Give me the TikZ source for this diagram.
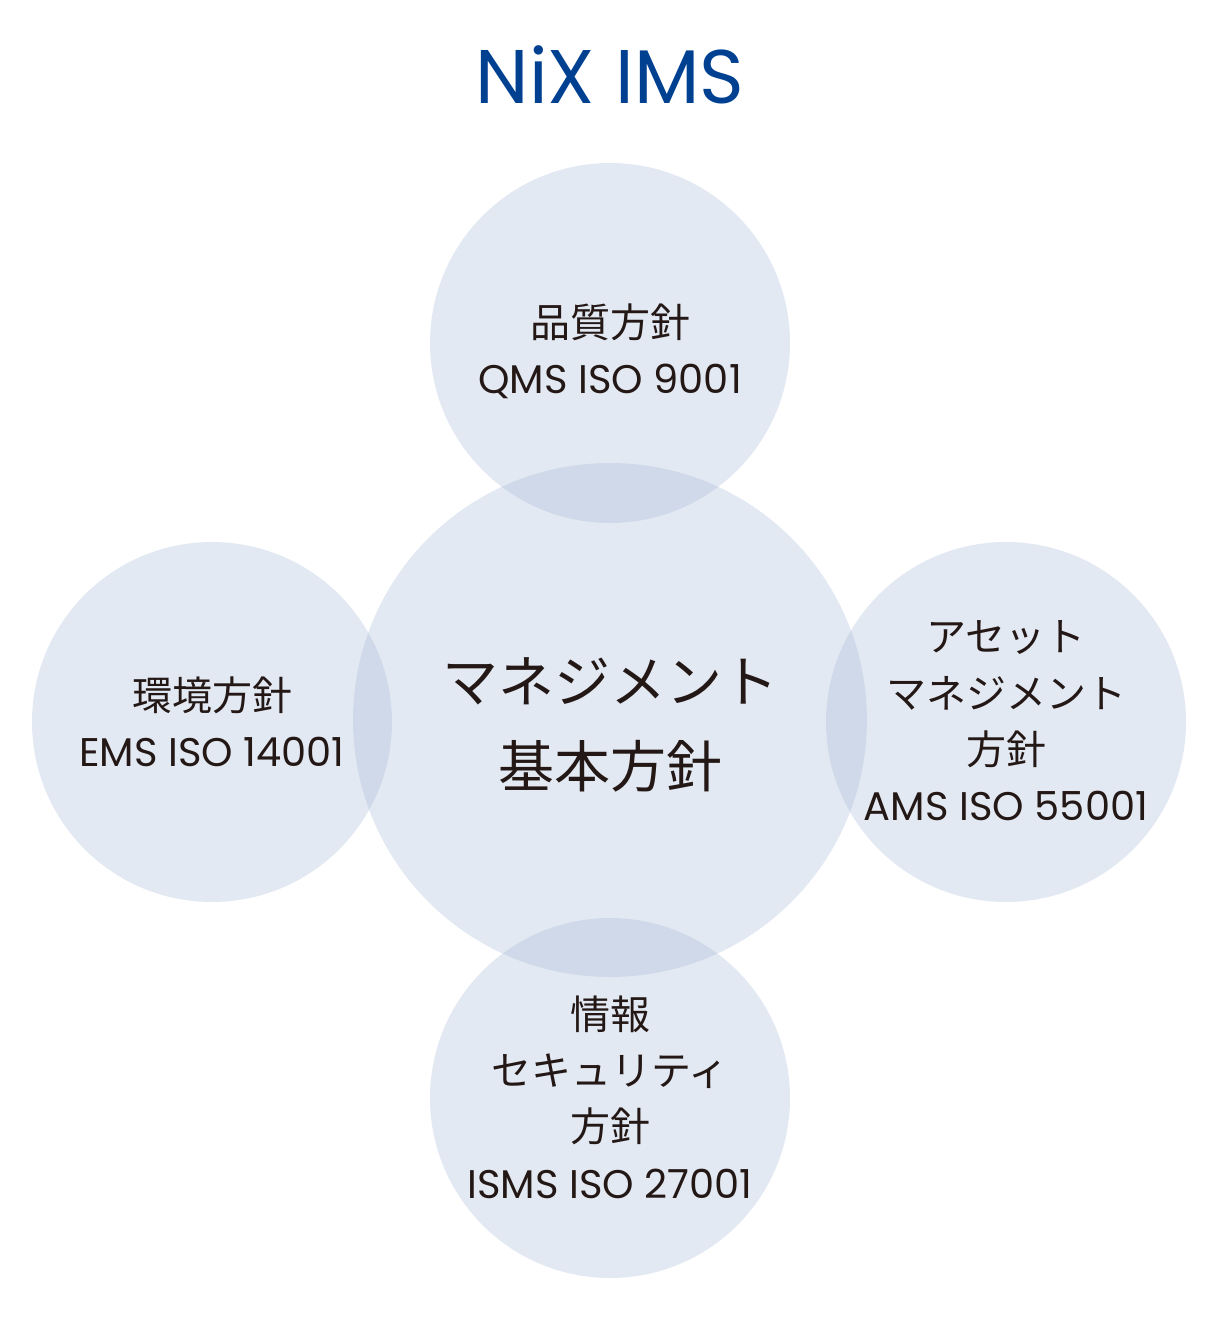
\documentclass[tikz,border=0pt]{standalone}
\usepackage{fontspec}
\setmainfont{Poppins}
\newfontfamily\jpfont{Noto Sans CJK JP}
\usepackage{xcolor}
\definecolor{nixblue}{RGB}{0,64,145}
\definecolor{nixink}{RGB}{35,24,21}
\definecolor{nixbubble}{RGB}{162,182,212}
\usepackage{tikz}
\usetikzlibrary{positioning}

\tikzset{
  bubble/.style={circle, fill=nixbubble, fill opacity=0.3, draw=none,
                 inner sep=0pt, minimum size=180pt},
  policy/.style={align=center, text=nixink, inner sep=0pt,
                 font=\fontsize{20}{28.2}\selectfont},
}

\begin{document}
\begin{tikzpicture}[x=0.5pt, y=-0.5pt]
\useasboundingbox (0,0) rectangle (1220,1320);

% Title
\node[font=\fontsize{38}{40}\selectfont, nixblue] (title) at (610,75) {NiX IMS};

% --- Circles ---
\node[bubble] (qms) at (610,343) {};
\node[bubble] (ems) at (212,722) {};
\node[bubble] (ams) at (1006,722) {};
\node[bubble] (isms) at (610,1098) {};
\node[bubble, minimum size=257pt] (core) at (610,720) {};

% --- Labels ---
\node[policy] (qms-txt) at (610,351) {{\jpfont 品質方針}\\QMS ISO 9001};
\node[policy] (ems-txt) at (212,722) {{\jpfont 環境方針}\\EMS ISO 14001};
\node[policy] (ams-txt) at (1006,721) {{\jpfont アセット}\\{\jpfont マネジメント}\\{\jpfont 方針}\\AMS ISO 55001};
\node[policy] (isms-txt) at (610,1097) {{\jpfont 情報}\\{\jpfont セキュリティ}\\{\jpfont 方針}\\ISMS ISO 27001};

% Center
\node[policy, font=\fontsize{28}{42.5}\selectfont] (core-txt) at (610,725)
  {{\jpfont マネジメント}\\{\jpfont 基本方針}};

\end{tikzpicture}
\end{document}
